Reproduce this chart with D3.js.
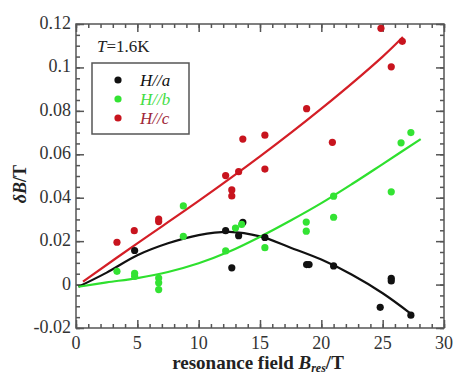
<!DOCTYPE html>
<html>
<head>
<meta charset="utf-8">
<script src="https://cdn.jsdelivr.net/npm/d3@7"></script>
<style>
body{margin:0;background:#fff;}
svg{display:block;}
text{font-family:"Liberation Serif","Times New Roman",serif;}
</style>
</head>
<body>
<svg id="chart"></svg>
<script>
// measured points, H//a (black)
var aX=[4.78,12.2,13.26,13.6,12.7,15.4,18.8,19.0,21.0,24.8,25.7,25.7,27.3];
var aY=[0.0157,0.0248,0.0225,0.0286,0.0077,0.0217,0.0092,0.0092,0.0086,-0.0105,0.0029,0.0017,-0.0141];
// H//b (green)
var bX=[3.34,4.78,4.78,6.74,6.74,6.74,8.75,8.75,12.2,13.0,13.5,15.4,18.77,18.77,21.0,21.0,25.7,26.5,27.3];
var bY=[0.0061,0.0052,0.0038,0.003,0.0008,-0.0023,0.0362,0.0222,0.0155,0.026,0.0277,0.017,0.0288,0.0246,0.0407,0.031,0.0427,0.0653,0.070];
// H//c (red)
var cX=[3.34,4.75,6.74,6.74,12.2,13.26,12.7,12.7,13.6,15.4,15.4,18.8,20.9,24.86,25.7,26.6];
var cY=[0.0195,0.0248,0.0302,0.029,0.0502,0.052,0.0436,0.0408,0.067,0.0688,0.0532,0.081,0.0655,0.118,0.1003,0.112];

// fit curves
var fitAX=[0.2,2.5,5,7.5,10,12.5,15,17.5,20,22.5,25,27.2];
var fitAY=[-0.001,0.0055,0.0135,0.019,0.0228,0.0243,0.0222,0.017,0.0115,0.0045,-0.004,-0.013];
var fitBX=[0.2,2.5,5,7.5,10,12.5,15,17.5,20,22.5,25,28.1];
var fitBY=[-0.001,0.001,0.003,0.0058,0.0098,0.0152,0.022,0.0295,0.0375,0.0463,0.0555,0.067];
var fitCX=[0.57,5,10,15,20,25,26.65];
var fitCY=[0.0014,0.019,0.0385,0.059,0.081,0.105,0.114];

var xTicks=[0,5,10,15,20,25,30];
var yTicks=[-0.02,0,0.02,0.04,0.06,0.08,0.1,0.12];
var yTickLabels=["-0.02","0","0.02","0.04","0.06","0.08","0.1","0.12"];
var legendNames=["H//a","H//b","H//c"];

var W=454,H=376;
var margins={top:24,bottom:48,left:76,right:10};
var width=W-margins.left-margins.right;
var height=H-margins.top-margins.bottom;

var svg=d3.select("#chart").attr("width",W).attr("height",H);

var xScale=d3.scaleLinear().domain([0,30]).range([0,width]);
var yScale=d3.scaleLinear().domain([-0.02,0.12]).range([height,0]);

var plot=svg.append("g")
            .attr("transform","translate("+margins.left+","+margins.top+")");

var frameColor="#555";

// minor + major ticks, all four sides, pointing inward
function styleAxis(g){
  g.select(".domain").remove();
  g.selectAll(".tick line").attr("stroke",frameColor).attr("stroke-width",1.5);
  g.selectAll("text").remove();
}
var xMinor=d3.range(0,31,1);
var yMinor=d3.range(-0.02,0.1201,0.005);
plot.append("g").attr("transform","translate(0,"+height+")")
    .call(d3.axisBottom(xScale).tickValues(xMinor).tickSize(-4)).call(styleAxis);
plot.append("g").attr("transform","translate(0,"+height+")")
    .call(d3.axisBottom(xScale).tickValues(xTicks).tickSize(-8)).call(styleAxis);
plot.append("g")
    .call(d3.axisTop(xScale).tickValues(xMinor).tickSize(-4)).call(styleAxis);
plot.append("g")
    .call(d3.axisTop(xScale).tickValues(xTicks).tickSize(-8)).call(styleAxis);
plot.append("g")
    .call(d3.axisLeft(yScale).tickValues(yMinor).tickSize(-4)).call(styleAxis);
plot.append("g")
    .call(d3.axisLeft(yScale).tickValues(yTicks).tickSize(-8)).call(styleAxis);
plot.append("g").attr("transform","translate("+width+",0)")
    .call(d3.axisRight(yScale).tickValues(yMinor).tickSize(-4)).call(styleAxis);
plot.append("g").attr("transform","translate("+width+",0)")
    .call(d3.axisRight(yScale).tickValues(yTicks).tickSize(-8)).call(styleAxis);

plot.append("rect")
    .attr("x",0).attr("y",0).attr("width",width).attr("height",height)
    .attr("fill","none").attr("stroke",frameColor).attr("stroke-width",1.5);

// tick labels
plot.selectAll(".xlab").data(xTicks).enter().append("text")
    .attr("x",function(d){return xScale(d);})
    .attr("y",height+21)
    .attr("text-anchor","middle")
    .attr("font-size",18)
    .attr("fill","#333")
    .text(function(d){return d;});
plot.selectAll(".ylab").data(yTicks).enter().append("text")
    .attr("x",-5)
    .attr("y",function(d){return yScale(d)+5;})
    .attr("text-anchor","end")
    .attr("font-size",18)
    .attr("fill","#333")
    .text(function(d,i){return yTickLabels[i];});

// fit lines
var line=d3.line()
           .x(function(d){return xScale(d[0]);})
           .y(function(d){return yScale(d[1]);})
           .curve(d3.curveCatmullRom);
var fits=[
  {x:fitAX,y:fitAY,color:"#111"},
  {x:fitBX,y:fitBY,color:"#2ee02e"},
  {x:fitCX,y:fitCY,color:"#d41e26"}
];
fits.forEach(function(f){
  plot.append("path")
      .datum(f.x.map(function(v,i){return [v,f.y[i]];}))
      .attr("fill","none")
      .attr("stroke",f.color)
      .attr("stroke-width",2.2)
      .attr("d",line);
});

// points
var series=[
  {x:aX,y:aY,color:"#111"},
  {x:bX,y:bY,color:"#33e333"},
  {x:cX,y:cY,color:"#c8141e"}
];
series.forEach(function(s){
  plot.selectAll(null)
      .data(s.x.map(function(v,i){return [v,s.y[i]];}))
      .enter().append("circle")
      .attr("cx",function(d){return xScale(d[0]);})
      .attr("cy",function(d){return yScale(d[1]);})
      .attr("r",3.6)
      .attr("fill",s.color);
});

// T label
var tl=svg.append("text").attr("x",97).attr("y",52).attr("font-size",17).attr("fill","#222");
tl.append("tspan").attr("font-style","italic").text("T");
tl.append("tspan").text("=1.6K");

// legend
var legend=svg.append("g").attr("transform","translate(92,63)");
legend.append("rect").attr("width",97).attr("height",71)
      .attr("fill","#fff").attr("stroke","#555").attr("stroke-width",1.5);
var legendColors=["#111","#33e333","#c8141e"];
var legendText=["#111","#44dd44","#a02838"];
var lines=legend.selectAll("g").data(legendNames).enter().append("g")
                .attr("transform",function(d,i){return "translate(0,"+(17+i*19)+")";});
lines.append("circle").attr("cx",26).attr("cy",0).attr("r",3.6)
     .attr("fill",function(d,i){return legendColors[i];});
lines.append("text").attr("x",48).attr("y",6)
     .attr("font-size",17).attr("font-style","italic")
     .attr("fill",function(d,i){return legendText[i];})
     .text(function(d){return d;});

// axis titles
var yt=svg.append("text")
          .attr("transform","translate(26,184) rotate(-90)")
          .attr("text-anchor","middle")
          .attr("font-size",18).attr("font-weight","bold").attr("font-style","italic")
          .attr("fill","#222");
yt.append("tspan").text("δB");
yt.append("tspan").attr("font-style","normal").text("/T");

var xt=svg.append("text").attr("x",258).attr("y",369)
          .attr("text-anchor","middle")
          .attr("font-size",19).attr("font-weight","bold").attr("fill","#222");
xt.append("tspan").text("resonance field ");
xt.append("tspan").attr("font-style","italic").text("B");
xt.append("tspan").attr("font-size",12).attr("dy",3).attr("font-style","italic").text("res");
xt.append("tspan").attr("dy",-3).text("/T");
</script>
</body>
</html>
